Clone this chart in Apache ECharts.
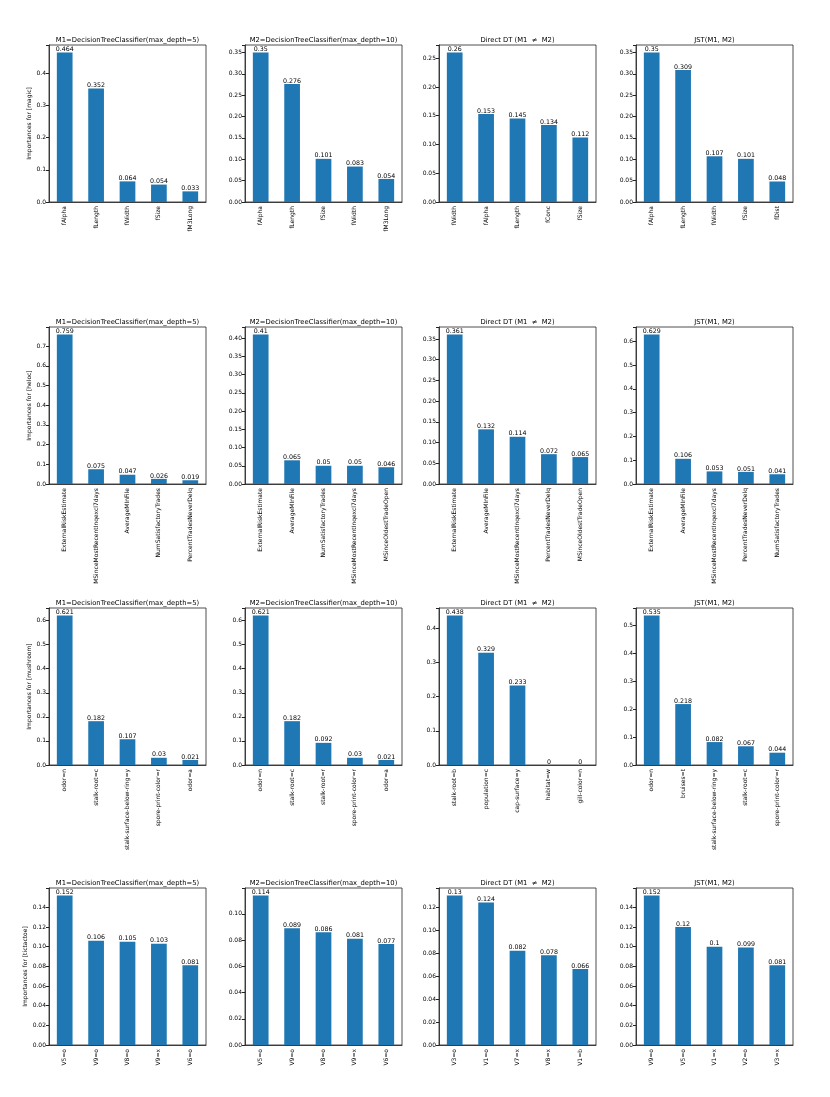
<!DOCTYPE html>
<html>
<head>
<meta charset="utf-8">
<script src="https://cdn.jsdelivr.net/npm/echarts@6/dist/echarts.min.js"></script>
<style>
html, body { margin: 0; padding: 0; background: #fff; }
#chart { width: 830px; height: 1097px; }
</style>
</head>
<body>
<div id="chart"></div>
<script>
// magic
const magicM1Names = ['fAlpha', 'fLength', 'fWidth', 'fSize', 'fM3Long']
const magicM1Values = [0.464, 0.352, 0.064, 0.054, 0.033]
const magicM2Names = ['fAlpha', 'fLength', 'fSize', 'fWidth', 'fM3Long']
const magicM2Values = [0.35, 0.276, 0.101, 0.083, 0.054]
const magicDirectNames = ['fWidth', 'fAlpha', 'fLength', 'fConc', 'fSize']
const magicDirectValues = [0.26, 0.153, 0.145, 0.134, 0.112]
const magicJstNames = ['fAlpha', 'fLength', 'fWidth', 'fSize', 'fDist']
const magicJstValues = [0.35, 0.309, 0.107, 0.101, 0.048]

// heloc
const helocM1Names = ['ExternalRiskEstimate', 'MSinceMostRecentInqexcl7days', 'AverageMInFile', 'NumSatisfactoryTrades', 'PercentTradesNeverDelq']
const helocM1Values = [0.759, 0.075, 0.047, 0.026, 0.019]
const helocM2Names = ['ExternalRiskEstimate', 'AverageMInFile', 'NumSatisfactoryTrades', 'MSinceMostRecentInqexcl7days', 'MSinceOldestTradeOpen']
const helocM2Values = [0.41, 0.065, 0.05, 0.05, 0.046]
const helocDirectNames = ['ExternalRiskEstimate', 'AverageMInFile', 'MSinceMostRecentInqexcl7days', 'PercentTradesNeverDelq', 'MSinceOldestTradeOpen']
const helocDirectValues = [0.361, 0.132, 0.114, 0.072, 0.065]
const helocJstNames = ['ExternalRiskEstimate', 'AverageMInFile', 'MSinceMostRecentInqexcl7days', 'PercentTradesNeverDelq', 'NumSatisfactoryTrades']
const helocJstValues = [0.629, 0.106, 0.053, 0.051, 0.041]

// mushroom
const mushM1Names = ['odor=n', 'stalk-root=c', 'stalk-surface-below-ring=y', 'spore-print-color=r', 'odor=a']
const mushM1Values = [0.621, 0.182, 0.107, 0.03, 0.021]
const mushM2Names = ['odor=n', 'stalk-root=c', 'stalk-root=r', 'spore-print-color=r', 'odor=a']
const mushM2Values = [0.621, 0.182, 0.092, 0.03, 0.021]
const mushDirectNames = ['stalk-root=b', 'population=c', 'cap-surface=y', 'habitat=w', 'gill-color=n']
const mushDirectValues = [0.438, 0.329, 0.233, 0, 0]
const mushJstNames = ['odor=n', 'bruises=t', 'stalk-surface-below-ring=y', 'stalk-root=c', 'spore-print-color=r']
const mushJstValues = [0.535, 0.218, 0.082, 0.067, 0.044]

// tictactoe
const tttM1Names = ['V5=o', 'V9=o', 'V8=o', 'V9=x', 'V6=o']
const tttM1Values = [0.152, 0.106, 0.105, 0.103, 0.081]
const tttM2Names = ['V5=o', 'V9=o', 'V8=o', 'V9=x', 'V6=o']
const tttM2Values = [0.114, 0.089, 0.086, 0.081, 0.077]
const tttDirectNames = ['V3=o', 'V1=o', 'V7=x', 'V8=x', 'V1=b']
const tttDirectValues = [0.13, 0.124, 0.082, 0.078, 0.066]
const tttJstNames = ['V9=o', 'V5=o', 'V1=x', 'V2=o', 'V3=x']
const tttJstValues = [0.152, 0.12, 0.1, 0.099, 0.081]

const datasets = ['magic', 'heloc', 'mushroom', 'tictactoe']
const titles = ['M1=DecisionTreeClassifier(max_depth=5)', 'M2=DecisionTreeClassifier(max_depth=10)', 'Direct DT (M1  \u2260  M2)', 'JST(M1, M2)']

// [names, values, tick step]
const rows = [
  [[magicM1Names, magicM1Values, 0.1], [magicM2Names, magicM2Values, 0.05], [magicDirectNames, magicDirectValues, 0.05], [magicJstNames, magicJstValues, 0.05]],
  [[helocM1Names, helocM1Values, 0.1], [helocM2Names, helocM2Values, 0.05], [helocDirectNames, helocDirectValues, 0.05], [helocJstNames, helocJstValues, 0.1]],
  [[mushM1Names, mushM1Values, 0.1], [mushM2Names, mushM2Values, 0.1], [mushDirectNames, mushDirectValues, 0.1], [mushJstNames, mushJstValues, 0.1]],
  [[tttM1Names, tttM1Values, 0.02], [tttM2Names, tttM2Values, 0.02], [tttDirectNames, tttDirectValues, 0.02], [tttJstNames, tttJstValues, 0.02]]
]

const lefts = [49, 245, 439, 636]
const tops = [45, 327, 608, 888]
const W = 157, H = 157
const FONT = 'DejaVu Sans'
const FS = 6

let grid = [], xAxis = [], yAxis = [], series = [], title = []
rows.forEach((row, r) => {
  row.forEach((p, c) => {
    let names = p[0], values = p[1], step = p[2]
    let i = grid.length
    let decimals = step >= 0.1 ? 1 : 2
    grid.push({
      left: lefts[c], top: tops[r], width: W, height: H,
      show: true, borderColor: '#222', borderWidth: 0.8, backgroundColor: 'transparent'
    })
    title.push({
      text: titles[c], padding: 0,
      left: lefts[c] + W / 2, top: tops[r] - 8, textAlign: 'center',
      textStyle: { fontSize: 6.8, fontWeight: 'normal', color: '#000', fontFamily: FONT }
    })
    xAxis.push({
      gridIndex: i, type: 'category', data: names, boundaryGap: true,
      axisLine: { lineStyle: { color: '#222', width: 0.8 } },
      axisTick: { alignWithLabel: true, length: 3, lineStyle: { color: '#222' } },
      axisLabel: { rotate: 90, interval: 0, fontSize: FS, margin: 4, color: '#000', fontFamily: FONT }
    })
    yAxis.push({
      gridIndex: i, type: 'value', min: 0, max: Math.max(...values) * 1.05, interval: step,
      name: c === 0 ? 'Importances for [' + datasets[r] + ']' : '',
      nameLocation: 'middle', nameGap: step >= 0.1 ? 14 : 18,
      nameTextStyle: { fontSize: FS, color: '#000', fontFamily: FONT },
      splitLine: { show: false },
      axisLine: { show: true, lineStyle: { color: '#222', width: 0.8 } },
      axisTick: { show: true, length: 3, lineStyle: { color: '#222' } },
      axisLabel: {
        fontSize: FS, margin: 3, color: '#000', fontFamily: FONT,
        formatter: v => {
          let k = v / step
          return Math.abs(k - Math.round(k)) < 1e-6 ? v.toFixed(decimals) : ''
        }
      }
    })
    series.push({
      type: 'bar', xAxisIndex: i, yAxisIndex: i, data: values, barWidth: '50%',
      itemStyle: { color: '#1f77b4' },
      label: {
        show: true, position: 'top', distance: 0, fontSize: 6.3, color: '#000', fontFamily: FONT,
        formatter: d => String(d.value)
      }
    })
  })
})

const chart = echarts.init(document.getElementById('chart'))
chart.setOption({ animation: false, title, grid, xAxis, yAxis, series })
</script>
</body>
</html>
